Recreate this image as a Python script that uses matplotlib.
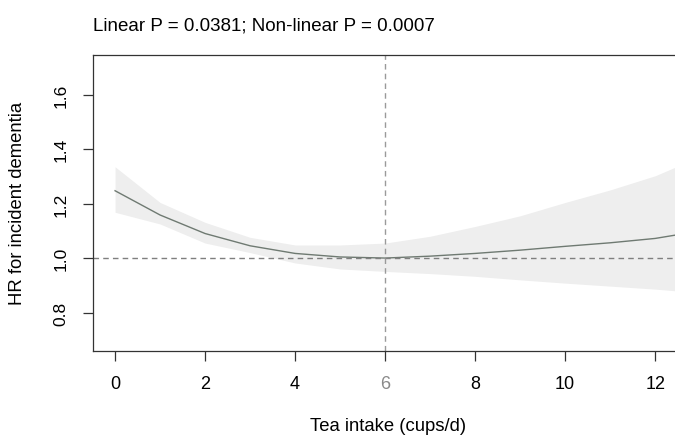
import numpy as np
import matplotlib
matplotlib.use("Agg")
import matplotlib.pyplot as plt

plt.rcParams['font.family'] = ['Liberation Sans', 'DejaVu Sans']

# spline estimate
tea_cups = [0, 1, 2, 3, 4, 5, 6, 7, 8, 9, 10, 11, 12, 12.44]
hr = [1.247, 1.158, 1.090, 1.045, 1.017, 1.004, 1.000, 1.007, 1.017, 1.029, 1.043, 1.056, 1.072, 1.084]
hr_upper = [1.335, 1.204, 1.131, 1.076, 1.048, 1.048, 1.055, 1.080, 1.116, 1.155, 1.204, 1.250, 1.302, 1.333]
hr_lower = [1.168, 1.125, 1.055, 1.020, 0.982, 0.960, 0.951, 0.943, 0.933, 0.920, 0.908, 0.897, 0.886, 0.880]

x_ticks = [0, 2, 4, 6, 8, 10, 12]
y_ticks = [0.8, 1.0, 1.2, 1.4, 1.6]
ref_value = 6
title_text = "Linear P = 0.0381; Non-linear P = 0.0007"

fig = plt.figure(figsize=(6.75, 4.39), dpi=100)
ax = fig.add_axes([93 / 675, 1 - 352 / 439, 1 - 93 / 675, (352 - 56) / 439])

ax.fill_between(tea_cups, hr_lower, hr_upper, color="#eeeeee", linewidth=0)
ax.plot(tea_cups, hr, color="#6f7a72", linewidth=1.0)
ax.axhline(1.0, color="#7f7f7f", linestyle=(0, (4, 3)), linewidth=1.0)
ax.axvline(ref_value, color="#9a9a9a", linestyle=(0, (4, 3)), linewidth=1.0)

ax.set_xlim(-0.49, 12.44)
ax.set_ylim(0.659, 1.745)

ax.set_xticks(x_ticks)
ax.set_xticklabels([str(t) for t in x_ticks], fontsize=13)
ax.set_yticks(y_ticks)
ax.set_yticklabels([f"{t:.1f}" for t in y_ticks], fontsize=12.5, rotation=90, va="center")

ax.tick_params(axis="both", direction="out", length=7.5, width=0.9, color="#333333")
ax.tick_params(axis="x", pad=10)
ax.tick_params(axis="y", pad=10)

# reference point drawn in gray
for lab, t in zip(ax.get_xticklabels(), x_ticks):
    if t == ref_value:
        lab.set_color("#8a8a8a")
for tk, t in zip(ax.xaxis.get_major_ticks(), x_ticks):
    if t == ref_value:
        tk.tick1line.set_color("#9a9a9a")

for side in ["left", "bottom", "top"]:
    ax.spines[side].set_color("#333333")
    ax.spines[side].set_linewidth(0.9)
ax.spines["right"].set_visible(False)

fig.text(93 / 675, 1 - 30.5 / 439, title_text, fontsize=13.5, va="baseline", ha="left")
fig.text(388 / 675, 1 - 427 / 439, "Tea intake (cups/d)", fontsize=13.3, va="center", ha="center")
fig.text(18 / 675, 1 - 203 / 439, "HR for incident dementia", fontsize=13.3, va="center", ha="center", rotation=90)

fig.savefig("out.png", dpi=100)
